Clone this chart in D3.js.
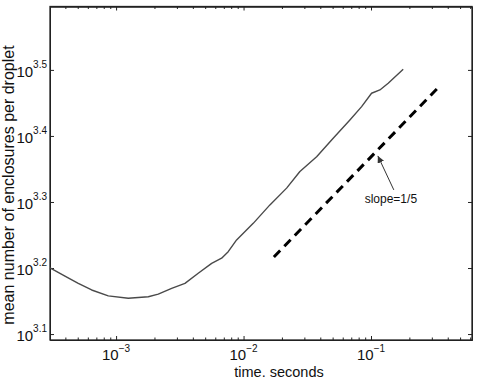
<!DOCTYPE html>
<html lang="en">
<head>
  <meta charset="UTF-8">
  <title>Mean enclosures per droplet</title>
  <script src="https://d3js.org/d3.v7.min.js"></script>
  <style>
    body {
      margin: 0;
      background: #fff;
      font-family: "Liberation Sans", Arial, sans-serif;
    }
    svg {
      display: block;
    }
    .axis path, .axis line {
      stroke: #222;
    }
  </style>
</head>
<body>

<div id="chart"></div>

<script>
  // Curve (time in seconds, mean enclosures per droplet)
  const timeSec = [3.03e-4, 3.97e-4, 5.05e-4, 6.43e-4, 8.68e-4, 1.246e-3, 1.789e-3, 2.142e-3,
    2.728e-3, 3.47e-3, 4.41e-3, 5.62e-3, 6.73e-3, 7.58e-3, 8.82e-3, 1.191e-2, 1.610e-2,
    2.177e-2, 2.768e-2, 3.744e-2, 5.05e-2, 6.83e-2, 8.44e-2, 0.1010, 0.1174, 0.1364, 0.1789];
  const meanEnclosures = [1586, 1541, 1502, 1468, 1438, 1426, 1434, 1447,
    1476, 1502, 1556, 1611, 1640, 1678, 1748, 1852, 1975,
    2094, 2219, 2336, 2492, 2656, 2782, 2915, 2949, 3018, 3170];

  // Reference line with slope 1/5 (end points)
  const slopeLineT = [0.0173, 0.3406];
  const slopeLineN = [1647, 2980];

  // Annotation: arrow tail, tip and label
  const arrowT = [0.151, 0.1132];
  const arrowN = [2081, 2343];
  const noteText = "slope=1/5";
  const noteT = 0.1432;
  const noteN = 1989;

  // Ticks
  const xTickValues = [1e-3, 1e-2, 1e-1];
  const xTickExps = ["\u22123", "\u22122", "\u22121"];
  const yTickExps = ["3.1", "3.2", "3.3", "3.4", "3.5"];

  const width = 477, height = 380;
  const margin = {top: 6.5, right: 5, bottom: 40, left: 50};

  const x = d3.scaleLog()
    .domain([3.03e-4, 0.62])
    .range([margin.left, width - margin.right]);

  const y = d3.scaleLog()
    .domain([Math.pow(10, 3.091), Math.pow(10, 3.596)])
    .range([height - margin.bottom, margin.top]);

  const svg = d3.select("#chart")
    .append("svg")
    .attr("width", width)
    .attr("height", height);

  // minor ticks on the log time axis
  const xMinor = [];
  for (let e = -4; e <= 0; e++) {
    for (let m = 2; m <= 9; m++) {
      const v = m * Math.pow(10, e);
      if (v > x.domain()[0] && v < x.domain()[1]) xMinor.push(v);
    }
  }
  const yTickValues = yTickExps.map(s => Math.pow(10, +s));

  const plotBottom = height - margin.bottom;
  const plotRight = width - margin.right;

  // bottom / top axes (ticks point inward)
  svg.append("g").attr("class", "axis")
    .attr("transform", `translate(0,${plotBottom})`)
    .call(d3.axisBottom(x).tickValues(xTickValues).tickSize(-4).tickSizeOuter(0).tickFormat(() => ""));
  svg.append("g").attr("class", "axis")
    .attr("transform", `translate(0,${plotBottom})`)
    .call(d3.axisBottom(x).tickValues(xMinor).tickSize(-2.5).tickSizeOuter(0).tickFormat(() => ""));
  svg.append("g").attr("class", "axis")
    .attr("transform", `translate(0,${margin.top})`)
    .call(d3.axisTop(x).tickValues(xTickValues).tickSize(-4).tickSizeOuter(0).tickFormat(() => ""));
  svg.append("g").attr("class", "axis")
    .attr("transform", `translate(0,${margin.top})`)
    .call(d3.axisTop(x).tickValues(xMinor).tickSize(-2.5).tickSizeOuter(0).tickFormat(() => ""));

  // left / right axes
  svg.append("g").attr("class", "axis")
    .attr("transform", `translate(${margin.left},0)`)
    .call(d3.axisLeft(y).tickValues(yTickValues).tickSize(-4).tickSizeOuter(0).tickFormat(() => ""));
  svg.append("g").attr("class", "axis")
    .attr("transform", `translate(${plotRight},0)`)
    .call(d3.axisRight(y).tickValues(yTickValues).tickSize(-4).tickSizeOuter(0).tickFormat(() => ""));

  // box
  svg.append("rect")
    .attr("x", margin.left)
    .attr("y", margin.top)
    .attr("width", plotRight - margin.left)
    .attr("height", plotBottom - margin.top)
    .attr("fill", "none")
    .attr("stroke", "#222")
    .attr("stroke-width", 1.3);

  // x tick labels, 10 with a raised exponent
  xTickValues.forEach((v, i) => {
    const t = svg.append("text")
      .attr("x", x(v))
      .attr("y", plotBottom + 20)
      .attr("text-anchor", "middle")
      .attr("font-size", 15)
      .attr("fill", "#111");
    t.append("tspan").text("10");
    t.append("tspan").attr("dy", -8).attr("font-size", 10).text(xTickExps[i]);
  });

  // y tick labels
  yTickValues.forEach((v, i) => {
    const t = svg.append("text")
      .attr("x", margin.left - 3)
      .attr("y", y(v) + 7)
      .attr("text-anchor", "end")
      .attr("font-size", 15)
      .attr("fill", "#111");
    t.append("tspan").text("10");
    t.append("tspan").attr("dy", -9).attr("font-size", 10).text(yTickExps[i]);
  });

  // axis titles
  svg.append("text")
    .attr("x", 279)
    .attr("y", 376.5)
    .attr("text-anchor", "middle")
    .attr("font-size", 14.5)
    .attr("fill", "#111")
    .text("time. seconds");

  svg.append("text")
    .attr("transform", "translate(14,185) rotate(-90)")
    .attr("text-anchor", "middle")
    .attr("font-size", 16)
    .attr("fill", "#111")
    .text("mean number of enclosures per droplet");

  // data curve
  const line = d3.line()
    .x(d => x(d[0]))
    .y(d => y(d[1]));

  svg.append("path")
    .datum(timeSec.map((t, i) => [t, meanEnclosures[i]]))
    .attr("d", line)
    .attr("fill", "none")
    .attr("stroke", "#4a4a4a")
    .attr("stroke-width", 1.4)
    .attr("stroke-linejoin", "round");

  // dashed slope line
  svg.append("path")
    .datum(slopeLineT.map((t, i) => [t, slopeLineN[i]]))
    .attr("d", line)
    .attr("fill", "none")
    .attr("stroke", "#000")
    .attr("stroke-width", 3)
    .attr("stroke-dasharray", "9,6");

  // arrow
  svg.append("defs").append("marker")
    .attr("id", "arrowhead")
    .attr("viewBox", "0 0 10 10")
    .attr("refX", 10)
    .attr("refY", 5)
    .attr("markerWidth", 7)
    .attr("markerHeight", 7)
    .attr("markerUnits", "userSpaceOnUse")
    .attr("orient", "auto")
    .append("path")
    .attr("d", "M0,0 L10,5 L0,10 Z")
    .attr("fill", "#333");

  svg.append("line")
    .attr("x1", x(arrowT[0]))
    .attr("y1", y(arrowN[0]))
    .attr("x2", x(arrowT[1]))
    .attr("y2", y(arrowN[1]))
    .attr("stroke", "#333")
    .attr("stroke-width", 1)
    .attr("marker-end", "url(#arrowhead)");

  svg.append("text")
    .attr("x", x(noteT))
    .attr("y", y(noteN))
    .attr("text-anchor", "middle")
    .attr("font-size", 12)
    .attr("fill", "#111")
    .text(noteText);
</script>

</body>
</html>
